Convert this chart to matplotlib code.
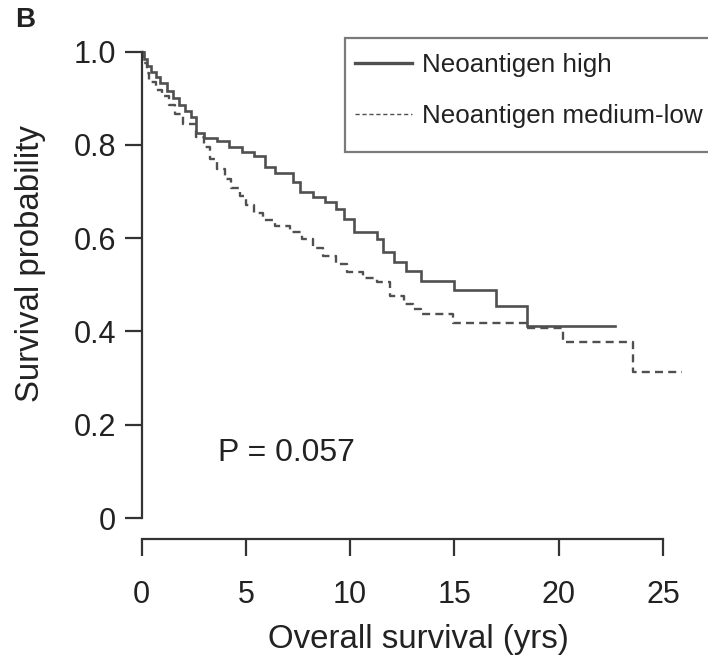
import matplotlib
matplotlib.use("Agg")
import matplotlib.pyplot as plt
from matplotlib.lines import Line2D
from matplotlib.patches import Rectangle

plt.rcParams['font.family'] = ['Liberation Sans', 'DejaVu Sans']

# Kaplan-Meier step data (years, survival probability)
high_t = [0, 0.1, 0.25, 0.45, 0.7, 0.9, 1.2, 1.5, 1.8, 2.1, 2.35, 2.6, 3.0, 3.6,
          4.2, 4.8, 5.4, 5.9, 6.4, 7.25, 7.6, 8.2, 8.8, 9.3, 9.7, 10.2, 11.3,
          11.6, 12.1, 12.7, 13.4, 15.0, 17.0, 18.5, 22.7]
high_s = [1.0, 0.985, 0.97, 0.957, 0.945, 0.932, 0.915, 0.9, 0.885, 0.872, 0.86,
          0.825, 0.815, 0.808, 0.796, 0.784, 0.776, 0.752, 0.74, 0.72, 0.70,
          0.688, 0.677, 0.662, 0.641, 0.613, 0.598, 0.57, 0.549, 0.53, 0.508,
          0.489, 0.455, 0.412, 0.412]

low_t = [0, 0.1, 0.25, 0.38, 0.7, 1.0, 1.3, 1.6, 2.0, 2.6, 3.0, 3.3, 3.6, 4.0,
         4.3, 4.7, 5.0, 5.4, 5.8, 6.4, 7.1, 7.7, 8.2, 8.7, 9.3, 9.85, 10.6,
         11.3, 11.9, 12.6, 13.0, 13.4, 14.95, 18.5, 20.2, 23.55, 25.9]
low_s = [1.0, 0.975, 0.955, 0.934, 0.918, 0.904, 0.885, 0.866, 0.845, 0.818,
         0.795, 0.77, 0.748, 0.728, 0.708, 0.69, 0.672, 0.655, 0.64, 0.627,
         0.613, 0.598, 0.58, 0.561, 0.545, 0.527, 0.515, 0.506, 0.476, 0.46,
         0.448, 0.437, 0.418, 0.407, 0.378, 0.313, 0.313]

series_labels = ["Neoantigen high", "Neoantigen medium-low"]
x_ticks = [0, 5, 10, 15, 20, 25]
y_ticks = [0, 0.2, 0.4, 0.6, 0.8, 1.0]
y_ticklabels = ["0", "0.2", "0.4", "0.6", "0.8", "1.0"]
p_text = "P = 0.057"

line_col = "#505050"
axis_col = "#333333"
text_col = "#222222"

W, H = 708, 655
fig = plt.figure(figsize=(W / 100, H / 100), dpi=100)
ax = fig.add_axes([0.1999, 0.1771, 0.9806 - 0.1999, 0.9282 - 0.1771])

ax.step(high_t, high_s, where='post', color=line_col, lw=1.9, solid_joinstyle='miter')
ax.step(low_t, low_s, where='post', color=line_col, lw=1.7, linestyle=(0, (3.4, 2.2)))

ax.set_xlim(0, 26.5)
ax.set_ylim(-0.045, 1.01)

for s in ['top', 'right']:
    ax.spines[s].set_visible(False)
ax.spines['left'].set_bounds(0, 1)
ax.spines['bottom'].set_bounds(0, 25)
for s in ['left', 'bottom']:
    ax.spines[s].set_linewidth(1.6)
    ax.spines[s].set_color(axis_col)

ax.set_xticks(x_ticks)
ax.set_xticklabels([str(v) for v in x_ticks])
ax.set_yticks(y_ticks)
ax.set_yticklabels(y_ticklabels)
ax.tick_params(axis='both', direction='out', length=12.5, width=1.6, color=axis_col,
               labelsize=22, labelcolor=text_col)
ax.tick_params(axis='x', pad=17)
ax.tick_params(axis='y', pad=6)

ax.set_xlabel("Overall survival (yrs)", fontsize=23.8, color=text_col, labelpad=10)
ax.set_ylabel("Survival probability", fontsize=23.8, color=text_col)
ax.yaxis.set_label_coords(-0.172, 0.56)

ax.text(3.65, 0.14, p_text, fontsize=23, color=text_col, ha='left', va='center')

# legend frame (extends past the right edge like the reference)
fig.patches.append(Rectangle((345 / W, 1 - 152 / H), 380 / W, 114 / H,
                             transform=fig.transFigure, facecolor='white',
                             edgecolor='#7a7a7a', linewidth=1.6, zorder=3))
handles = [Line2D([], [], color=line_col, lw=2.4),
           Line2D([], [], color=line_col, lw=1.0, linestyle=(0, (3, 2)))]
leg = fig.legend(handles, series_labels, loc='upper left',
                 bbox_to_anchor=(345 / W, 1 - 43 / H), bbox_transform=fig.transFigure,
                 borderaxespad=0, fontsize=18.7, handlelength=2.2, handletextpad=0.38,
                 borderpad=0.38, labelspacing=1.05, frameon=False)
leg.set_zorder(4)
for t in leg.get_texts():
    t.set_color(text_col)

fig.text(15 / W, 1 - 20 / H, "B", fontsize=20, fontweight='bold', color=text_col,
         ha='left', va='center')

fig.savefig("out.png", dpi=100)
